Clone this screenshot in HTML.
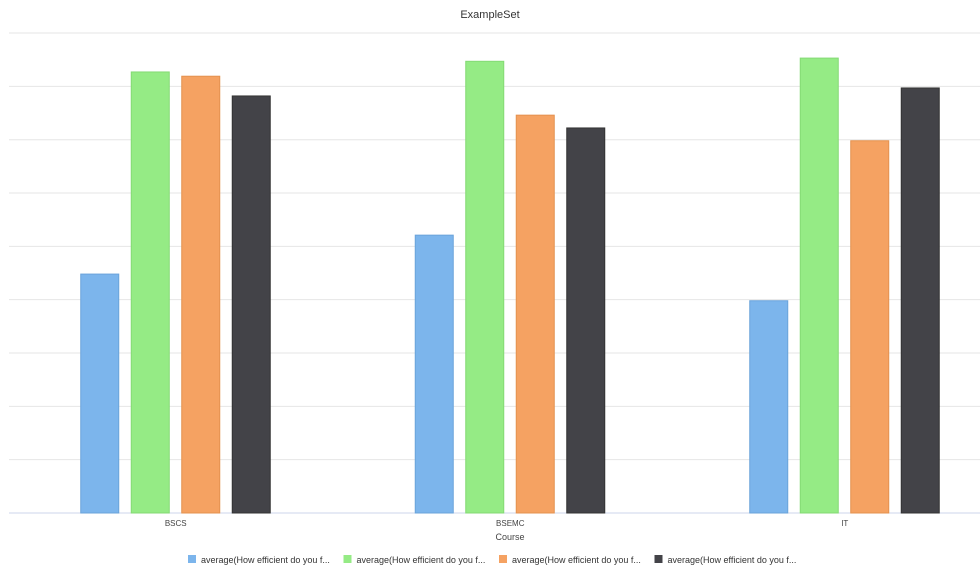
<!DOCTYPE html>
<html><head><meta charset="utf-8"><style>
body{margin:0;background:#fff;font-family:"Liberation Sans",sans-serif;}
svg{display:block}
</style></head><body>
<svg width="980" height="576">
<text x="490" y="18" text-anchor="middle" font-size="11" fill="#333">ExampleSet</text>
<g id="grid"></g><g id="bars"></g><g id="xlabels"></g>
<text x="510" y="540" text-anchor="middle" font-size="9" fill="#444">Course</text>
<g id="legend"></g>
</svg>
<script>
const categories=["BSCS","BSEMC","IT"];
const s1=[4.48,5.21,3.98];
const s2=[8.27,8.47,8.53];
const s3=[8.19,7.46,6.98];
const s4=[7.82,7.22,7.97];
const gridTicks=[0,1,2,3,4,5,6,7,8,9];
const legendLabels=["average(How efficient do you f...","average(How efficient do you f...","average(How efficient do you f...","average(How efficient do you f..."];
const series=[s1,s2,s3,s4];
const colors=["#7cb5ec","#95eb85","#f5a262","#434348"];
const strokes=["#6aa3da","#84da74","#e4914f","#333"];
const NS="http://www.w3.org/2000/svg";
const base=513, unit=53.33, x0=8.5, band=334.5;
const y=v=>base-v*unit;
const cx=i=>x0+band*(i+0.5);
function mk(t,a,p){const e=document.createElementNS(NS,t);for(const k in a)e.setAttribute(k,a[k]);p.appendChild(e);return e;}
const G=document.getElementById('grid');
gridTicks.forEach(t=>{const l=mk('line',{x1:9,x2:980,y1:y(t),y2:y(t),stroke:t==0?'#ccd6eb':'#e6e6e6','stroke-width':1},G);

});
const B=document.getElementById('bars');
categories.forEach((c,i)=>{series.forEach((s,j)=>{
const bx=cx(i)-95+j*50.5;
const r=mk('rect',{x:bx,y:y(s[i]),width:38,height:base-y(s[i]),fill:colors[j],stroke:strokes[j],'stroke-width':1},B);

});
const t=mk('text',{x:cx(i),y:526,'text-anchor':'middle','font-size':8,fill:'#444'},document.getElementById('xlabels'));
t.textContent=c;

});
const L=document.getElementById('legend');
legendLabels.forEach((lab,j)=>{const lx=188+j*155.5;
const g=mk('g',{},L);


mk('rect',{x:lx,y:555,width:8,height:8,fill:colors[j]},g);
const t=mk('text',{x:lx+13,y:563,'font-size':9,fill:'#333'},g);t.textContent=lab;});
</script>
</body></html>
